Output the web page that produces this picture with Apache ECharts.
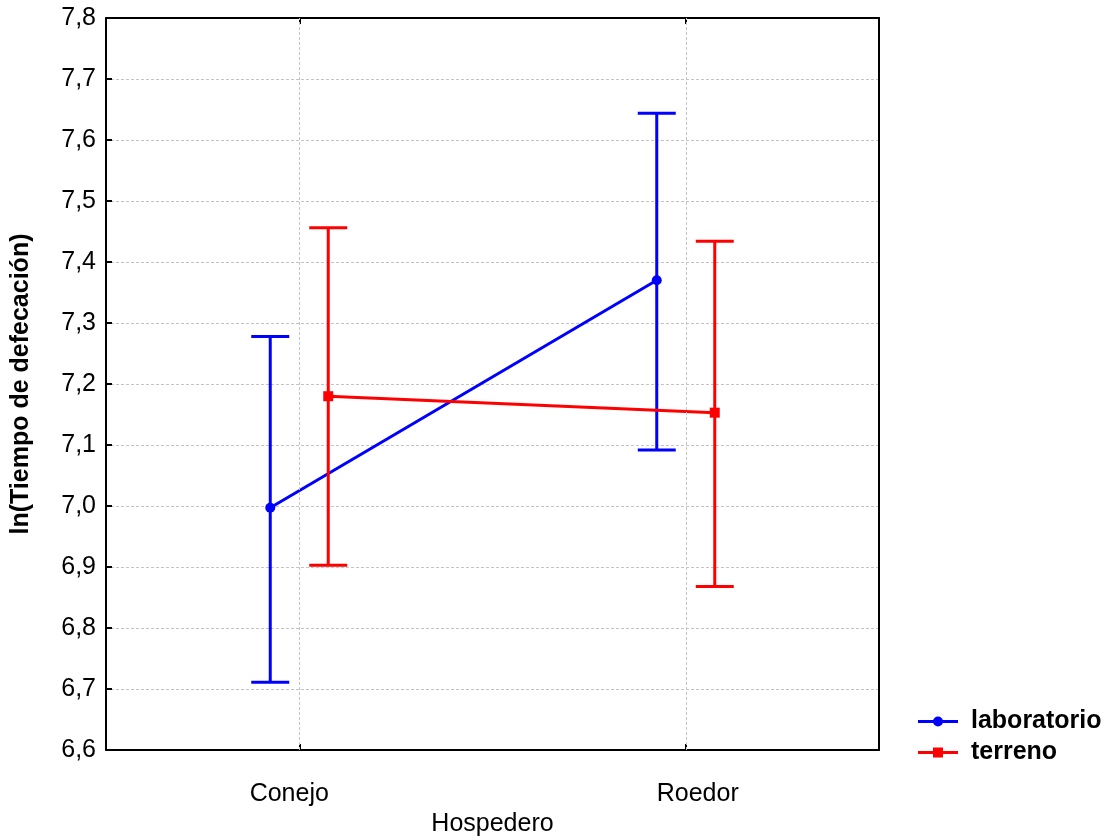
<!DOCTYPE html>
<html><head><meta charset="utf-8">
<script src="https://cdn.jsdelivr.net/npm/echarts@6/dist/echarts.min.js"></script>
<style>html,body{margin:0;padding:0;background:#fff}#c{width:1109px;height:837px}</style>
</head><body><div id="c"></div>
<script>
const categories = ['Conejo', 'Roedor'];
const labMean  = [6.997, 7.370];
const labLower = [6.711, 7.092];
const labUpper = [7.278, 7.644];
const terMean  = [7.180, 7.153];
const terLower = [6.903, 6.868];
const terUpper = [7.456, 7.434];
const yMin = 6.6, yMax = 7.8, yStep = 0.1;
const seriesNames = ['laboratorio', 'terreno'];
const colors = ['#0000ff', '#ff0000'];

const FONT = '"Liberation Sans", Arial, sans-serif';

function rows(mean, lower, upper) {
  return categories.map((c, i) => [i, mean[i], lower[i], upper[i]]);
}

function makeRender(mean, color, offset, marker) {
  return function (params, api) {
    const i = params.dataIndex;
    const c = api.coord([api.value(0), api.value(1)]);
    const lo = api.coord([api.value(0), api.value(2)]);
    const hi = api.coord([api.value(0), api.value(3)]);
    const x = c[0] + offset;
    const st = { stroke: color, lineWidth: 3, fill: null };
    const ch = [];
    if (i < mean.length - 1) {
      const n = api.coord([i + 1, mean[i + 1]]);
      ch.push({ type: 'line', z2: 1, shape: { x1: x, y1: c[1], x2: n[0] + offset, y2: n[1] }, style: st });
    }
    ch.push({ type: 'line', z2: 2, shape: { x1: x, y1: lo[1], x2: x, y2: hi[1] }, style: st });
    ch.push({ type: 'line', z2: 2, shape: { x1: x - 19, y1: lo[1], x2: x + 19, y2: lo[1] }, style: st });
    ch.push({ type: 'line', z2: 2, shape: { x1: x - 19, y1: hi[1], x2: x + 19, y2: hi[1] }, style: st });
    if (marker === 'circle') {
      ch.push({ type: 'circle', z2: 3, shape: { cx: x, cy: c[1], r: 5 }, style: { fill: color } });
    } else {
      ch.push({ type: 'rect', z2: 3, shape: { x: x - 5, y: c[1] - 5, width: 10, height: 10 }, style: { fill: color } });
    }
    return { type: 'group', children: ch };
  };
}

const chart = echarts.init(document.getElementById('c'), null, { renderer: 'canvas' });
const gridLine = { show: true, lineStyle: { color: '#c4c4c4', width: 1, type: [3, 2] } };
const fmt = v => (Math.round(v * 10) / 10).toFixed(1).replace('.', ',');

chart.setOption({
  animation: false,
  backgroundColor: '#fff',
  textStyle: { fontFamily: FONT },
  grid: { left: 106, right: 230, top: 18, bottom: 87, containLabel: false, outerBoundsMode: 'none' },
  legend: {
    orient: 'vertical',
    left: 918,
    top: 709,
    padding: 0,
    itemWidth: 40,
    itemHeight: 10,
    itemGap: 6,
    textStyle: { fontFamily: FONT, fontSize: 25, fontWeight: 'bold', color: '#000', padding: [0, 0, 0, 8] },
    data: [
      { name: seriesNames[0], icon: 'path://M0,4.5 L40,4.5 L40,7.5 L0,7.5 Z M25,6 A5,5 0 1,1 15,6 A5,5 0 1,1 25,6 Z', itemStyle: { color: colors[0] } },
      { name: seriesNames[1], icon: 'path://M0,4.5 L40,4.5 L40,7.5 L0,7.5 Z M15,1 L25,1 L25,11 L15,11 Z', itemStyle: { color: colors[1] } }
    ]
  },
  xAxis: [
    {
      type: 'category', data: categories, position: 'bottom',
      name: 'Hospedero', nameLocation: 'middle', nameGap: 62,
      nameTextStyle: { fontFamily: FONT, fontSize: 25, color: '#000' },
      axisLine: { lineStyle: { color: '#000', width: 2 } },
      axisTick: { show: true, alignWithLabel: true, inside: true, length: 6, lineStyle: { color: '#000', width: 2 } },
      axisLabel: {
        fontFamily: FONT, fontSize: 25, color: '#000', margin: 32,
        formatter: (v, i) => (i === 0 ? '{a|' + v + '}' : '{b|' + v + '}'),
        rich: {
          a: { fontFamily: FONT, fontSize: 25, color: '#000', padding: [0, 20, 0, 0] },
          b: { fontFamily: FONT, fontSize: 25, color: '#000', padding: [0, 0, 0, 24] }
        }
      },
      splitLine: { show: false }
    },
    {
      type: 'category', data: categories, position: 'top',
      axisLine: { lineStyle: { color: '#000', width: 2 } },
      axisTick: { show: true, alignWithLabel: true, inside: true, length: 6, lineStyle: { color: '#000', width: 2 } },
      axisLabel: { show: false }, splitLine: { show: false }
    }
  ],
  yAxis: [
    {
      type: 'value', min: yMin, max: yMax, interval: yStep, position: 'left',
      name: 'ln(Tiempo de defecación)', nameLocation: 'middle', nameGap: 72,
      nameTextStyle: { fontFamily: FONT, fontSize: 25, fontWeight: 'bold', color: '#000' },
      axisLine: { show: true, lineStyle: { color: '#000', width: 2 } },
      axisTick: { show: true, inside: true, length: 6, lineStyle: { color: '#000', width: 2 } },
      axisLabel: { fontFamily: FONT, fontSize: 25, color: '#000', margin: 10, formatter: fmt },
      splitLine: gridLine
    },
    {
      type: 'value', min: yMin, max: yMax, interval: yStep, position: 'right',
      axisLine: { show: true, lineStyle: { color: '#000', width: 2 } },
      axisTick: { show: false }, axisLabel: { show: false }, splitLine: { show: false }
    }
  ],
  series: [
    {
      type: 'line', data: [], silent: true, z: 0,
      markLine: {
        silent: true, symbol: 'none', label: { show: false },
        lineStyle: { color: '#c4c4c4', width: 1, type: [3, 2] },
        data: categories.map(c => ({ xAxis: c }))
      }
    },
    {
      name: seriesNames[0], type: 'custom', z: 2,
      itemStyle: { color: colors[0] },
      renderItem: makeRender(labMean, colors[0], -29, 'circle'),
      encode: { x: 0, y: [1, 2, 3] },
      data: rows(labMean, labLower, labUpper)
    },
    {
      name: seriesNames[1], type: 'custom', z: 3,
      itemStyle: { color: colors[1] },
      renderItem: makeRender(terMean, colors[1], 29, 'rect'),
      encode: { x: 0, y: [1, 2, 3] },
      data: rows(terMean, terLower, terUpper)
    }
  ]
});
</script></body></html>
